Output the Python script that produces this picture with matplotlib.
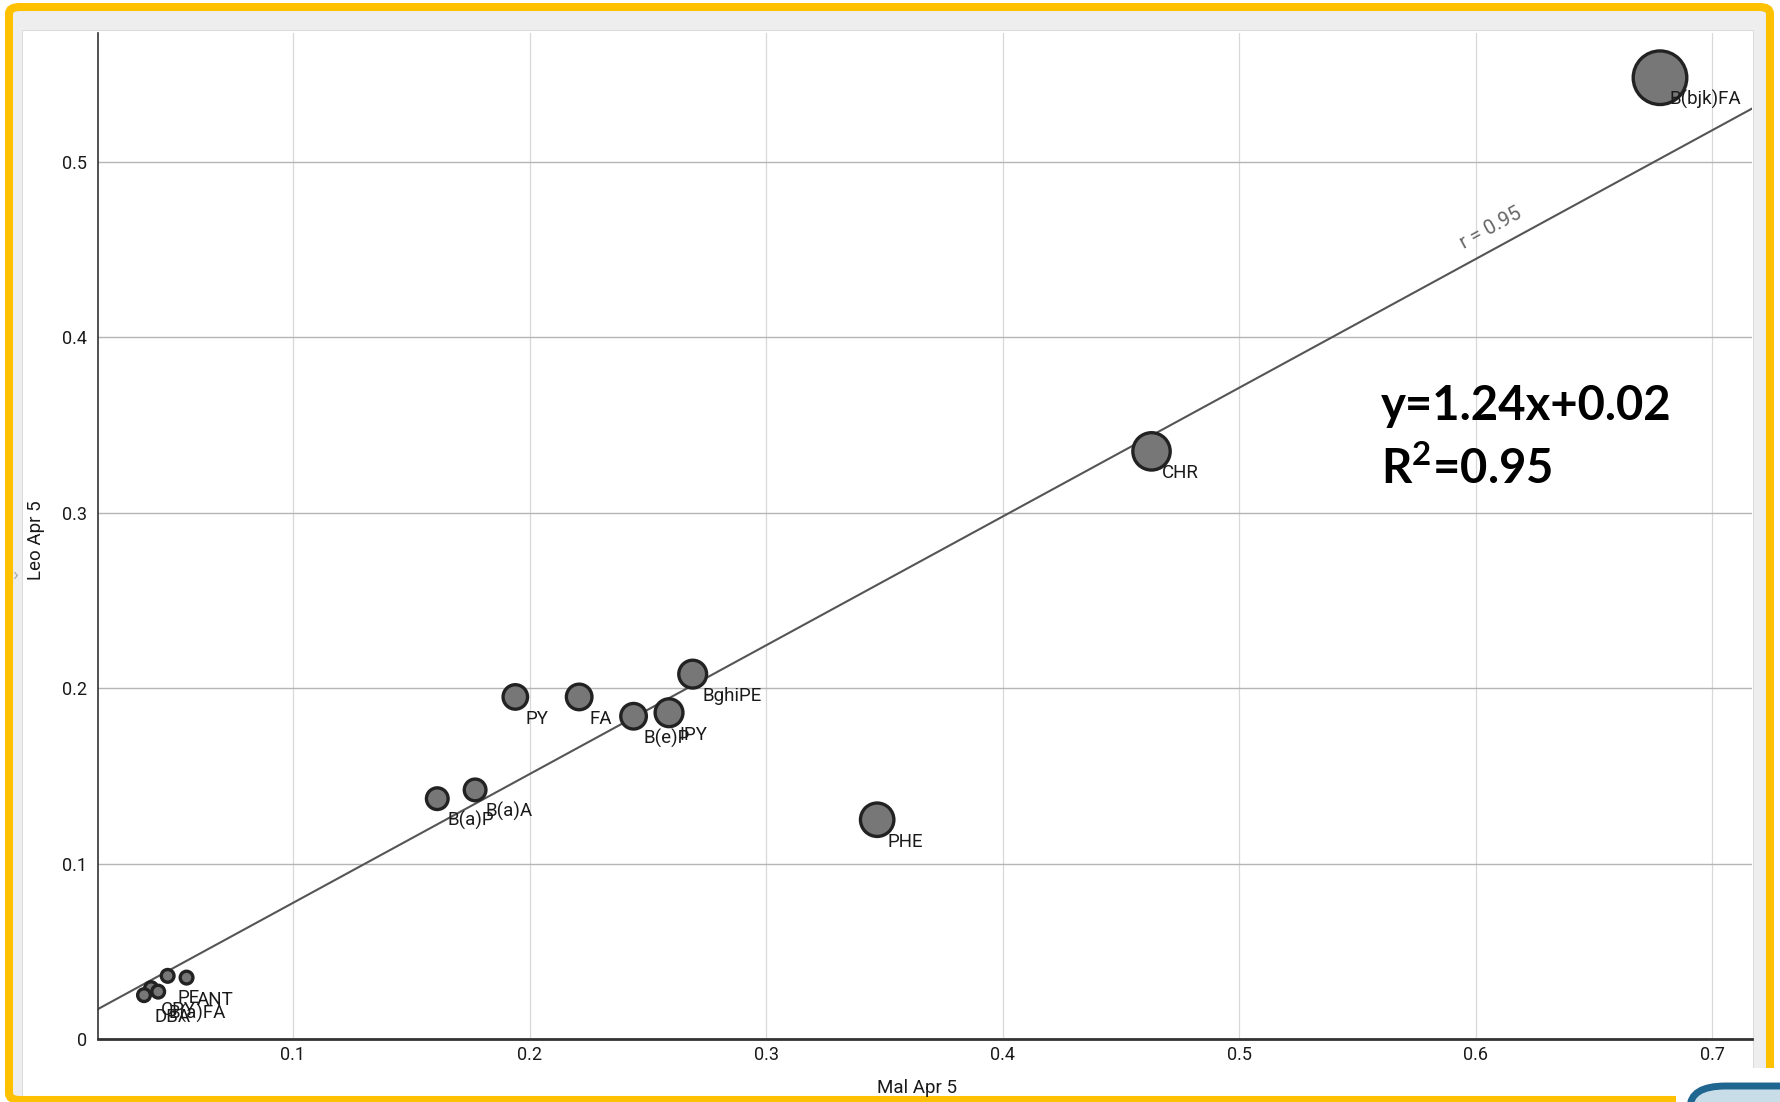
import matplotlib.pyplot as plt
from matplotlib.patches import Rectangle, FancyBboxPatch

# PAH concentrations, Mal Apr 5 (x) vs Leo Apr 5 (y)
compounds = ['B(bjk)FA', 'CHR', 'PHE', 'BghiPE', 'IPY', 'B(e)P', 'FA', 'PY',
             'B(a)A', 'B(a)P', 'PE', 'ANT', 'CPY', 'B(a)FA', 'DBA']
mal = [0.678, 0.463, 0.347, 0.269, 0.259, 0.244, 0.221, 0.194,
       0.177, 0.161, 0.047, 0.055, 0.040, 0.043, 0.037]
leo = [0.548, 0.335, 0.125, 0.208, 0.186, 0.184, 0.195, 0.195,
       0.142, 0.137, 0.036, 0.035, 0.029, 0.027, 0.025]
# relative bubble weight
weight = [1.0, 0.71, 0.64, 0.54, 0.54, 0.50, 0.50, 0.48,
          0.43, 0.43, 0.27, 0.27, 0.27, 0.27, 0.27]

fit_slope = 0.734
fit_icept = 0.0042
r_label = 'r = 0.95'
eq_lines = ['y=1.24x+0.02', 'R$^{2}$=0.95']

xticks = [0.1, 0.2, 0.3, 0.4, 0.5, 0.6, 0.7]
xlabels = ['0.1', '0.2', '0.3', '0.4', '0.5', '0.6', '0.7']
yticks = [0, 0.1, 0.2, 0.3, 0.4, 0.5]
ylabels = ['0', '0.1', '0.2', '0.3', '0.4', '0.5']

W, H = 1781, 1102
plt.rcParams['font.family'] = ['Roboto', 'DejaVu Sans']
plt.rcParams['mathtext.fontset'] = 'custom'
plt.rcParams['mathtext.bf'] = 'Lato:bold'
plt.rcParams['mathtext.rm'] = 'Lato:bold'
plt.rcParams['mathtext.it'] = 'Lato:bold'


def fx(px):
    return px / W


def fy(py):
    return 1 - py / H


def frect(x0, y0, x1, y1, **kw):
    # rectangle given in pixel coords (top-left origin)
    return Rectangle((fx(x0), fy(y1)), fx(x1) - fx(x0), fy(y0) - fy(y1),
                     transform=fig.transFigure, **kw)


fig = plt.figure(figsize=(W / 100, H / 100), dpi=100)
fig.patch.set_facecolor('white')

# window frame
fig.patches.append(frect(13, 11, 1766, 1098, facecolor='#eeeeee', edgecolor='none', zorder=-5))
fig.patches.append(frect(22, 30, 1753, 1110, facecolor='white', edgecolor='#dddddd', lw=0.8, zorder=-4))
yb = FancyBboxPatch((fx(9), fy(1100)), fx(1770) - fx(9), fy(7) - fy(1100),
                    boxstyle='round,pad=0,rounding_size=0.006', transform=fig.transFigure,
                    facecolor='none', edgecolor='#ffc000', lw=5.8, zorder=-3)
fig.patches.append(yb)
fig.patches.append(frect(1676, 1068, 1781, 1102, facecolor='white', edgecolor='none', zorder=-2))
logo = FancyBboxPatch((fx(1690), fy(1160)), fx(1830) - fx(1690), fy(1086) - fy(1160),
                      boxstyle='round,pad=0,rounding_size=0.02', transform=fig.transFigure,
                      facecolor='#c9dde8', edgecolor='#1f6690', lw=5, zorder=-1)
fig.patches.append(logo)
fig.text(fx(15), fy(575), '\u203a', color='#aaaaaa', fontsize=14, ha='center', va='center')

ax = fig.add_axes([fx(98), fy(1039), fx(1752) - fx(98), fy(33) - fy(1039)])
ax.set_zorder(2)
ax.set_facecolor('none')
ax.set_xlim(0.01755, 0.7169)
ax.set_ylim(0, 0.5735)
ax.set_axisbelow(True)

ax.set_xticks(xticks)
ax.set_xticklabels(xlabels)
ax.set_yticks(yticks)
ax.set_yticklabels(ylabels)
ax.tick_params(length=0, labelsize=13, colors='#1a1a1a')
ax.tick_params(axis='x', pad=5)
ax.tick_params(axis='y', pad=8)
ax.xaxis.grid(True, color='#d8d8d8', lw=0.9)
ax.yaxis.grid(True, color='#b5b5b5', lw=1.0)
for s in ['top', 'right']:
    ax.spines[s].set_visible(False)
ax.spines['left'].set_color('#333333')
ax.spines['left'].set_linewidth(1.2)
ax.spines['bottom'].set_color('#333333')
ax.spines['bottom'].set_linewidth(2.0)

# regression line
xs = [0.01755, 0.7169]
ax.plot(xs, [fit_icept + fit_slope * v for v in xs], color='#555555', lw=1.5, zorder=2)
xr = 0.6065
ax.annotate(r_label, (xr, fit_icept + fit_slope * xr), xytext=(0, 16.5),
            textcoords='offset points', rotation=28.6, rotation_mode='anchor',
            ha='center', va='center', fontsize=14.5, color='#666666')

# bubbles
sizes = [(2 * (28 * w - 1.2) * 0.72) ** 2 for w in weight]
ax.scatter(mal, leo, s=sizes, c='#777777', edgecolors='#222222', linewidths=2.4, zorder=3)
for name, x, y in zip(compounds, mal, leo):
    ax.annotate(name, (x, y), xytext=(7.2, -15.8), textcoords='offset points',
                ha='left', va='center', fontsize=13.5, color='#1a1a1a', zorder=4)

fig.text(fx(917), fy(1088), 'Mal Apr 5', fontsize=13.5, ha='center', va='center', color='#1a1a1a')
fig.text(fx(36), fy(540), 'Leo Apr 5', fontsize=13.5, ha='center', va='center',
         rotation=90, color='#1a1a1a')

for i, line in enumerate(eq_lines):
    fig.text(fx(1381), fy(420 + 63 * i), line, fontsize=34, family='Lato', fontweight='bold',
             ha='left', va='baseline', color='black', zorder=5)

fig.savefig('out.png', dpi=100)
